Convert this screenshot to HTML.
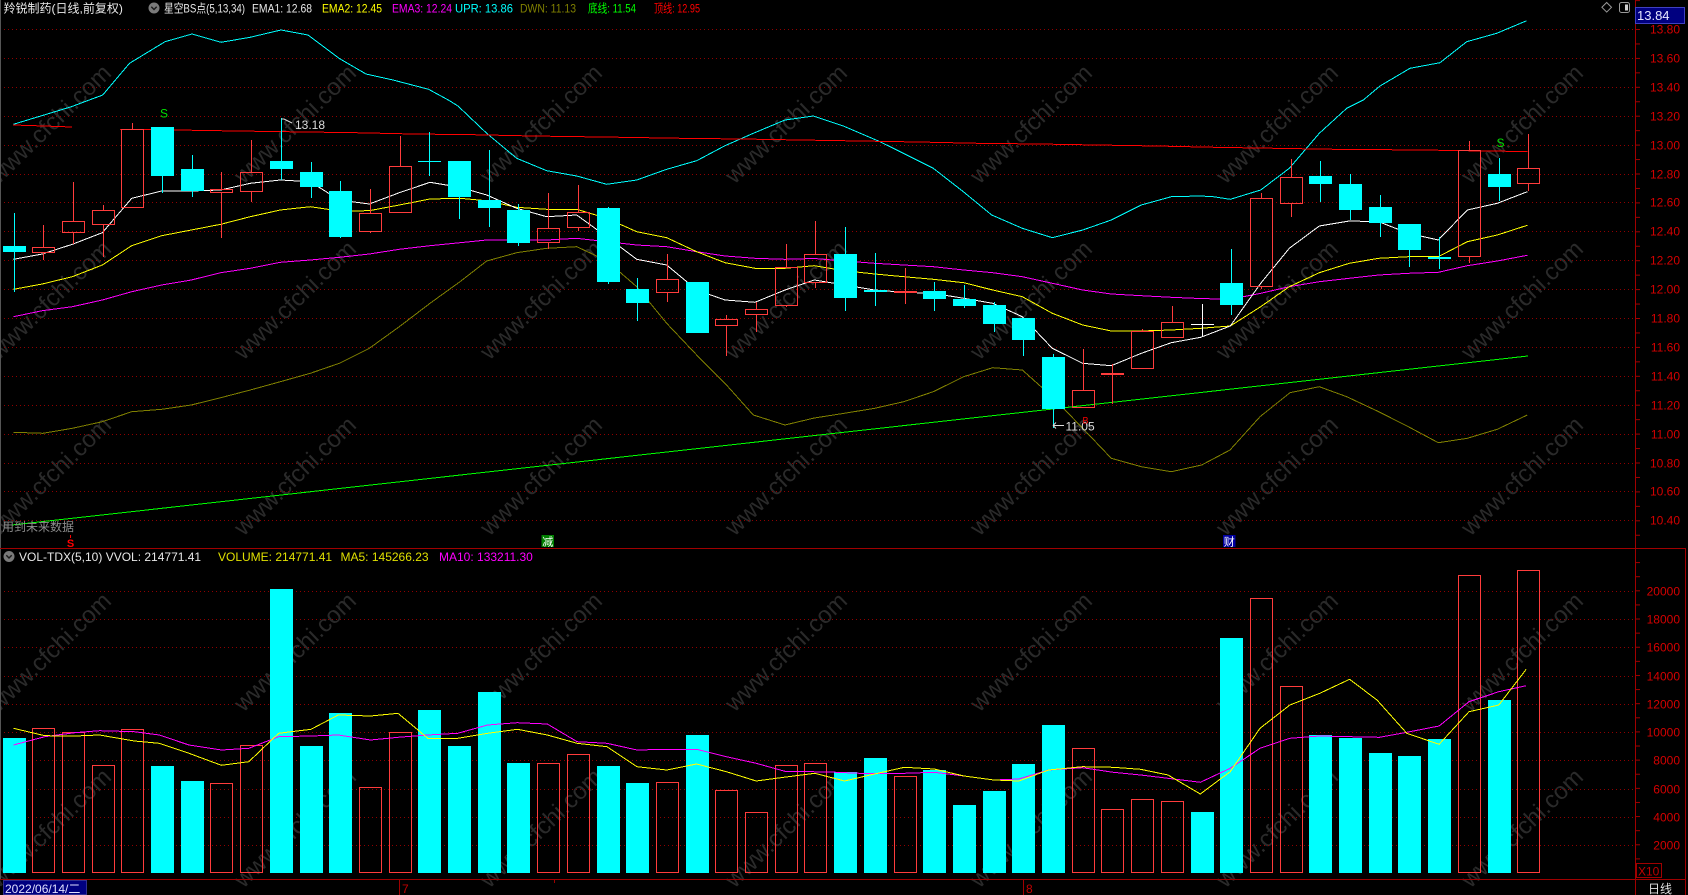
<!DOCTYPE html>
<html><head><meta charset="utf-8"><style>
html,body{margin:0;padding:0;background:#000;}
svg{display:block;font-family:"Liberation Sans","Noto Sans CJK SC",sans-serif;}
</style></head><body>
<svg width="1688" height="895" viewBox="0 0 1688 895" xmlns="http://www.w3.org/2000/svg">
<rect width="1688" height="895" fill="#000"/>
<defs>
<pattern id="tkm" patternUnits="userSpaceOnUse" x="1636" y="0.1" width="5" height="14.45"><rect x="0" y="0" width="4" height="1" fill="#a00000"/></pattern>
<pattern id="tkv" patternUnits="userSpaceOnUse" x="1636" y="11.8" width="5" height="14.11"><rect x="0" y="0" width="4" height="1" fill="#a00000"/></pattern>
</defs>

<!-- watermarks -->
<g font-size="24" fill="#2a2a2a" text-anchor="middle">
<text x="50" y="132" transform="rotate(-44 50 124)">www.cfchi.com</text>
<text x="295" y="132" transform="rotate(-44 295 124)">www.cfchi.com</text>
<text x="541" y="132" transform="rotate(-44 541 124)">www.cfchi.com</text>
<text x="786" y="132" transform="rotate(-44 786 124)">www.cfchi.com</text>
<text x="1031" y="132" transform="rotate(-44 1031 124)">www.cfchi.com</text>
<text x="1277" y="132" transform="rotate(-44 1277 124)">www.cfchi.com</text>
<text x="1522" y="132" transform="rotate(-44 1522 124)">www.cfchi.com</text>
<text x="50" y="308" transform="rotate(-44 50 300)">www.cfchi.com</text>
<text x="295" y="308" transform="rotate(-44 295 300)">www.cfchi.com</text>
<text x="541" y="308" transform="rotate(-44 541 300)">www.cfchi.com</text>
<text x="786" y="308" transform="rotate(-44 786 300)">www.cfchi.com</text>
<text x="1031" y="308" transform="rotate(-44 1031 300)">www.cfchi.com</text>
<text x="1277" y="308" transform="rotate(-44 1277 300)">www.cfchi.com</text>
<text x="1522" y="308" transform="rotate(-44 1522 300)">www.cfchi.com</text>
<text x="50" y="484" transform="rotate(-44 50 476)">www.cfchi.com</text>
<text x="295" y="484" transform="rotate(-44 295 476)">www.cfchi.com</text>
<text x="541" y="484" transform="rotate(-44 541 476)">www.cfchi.com</text>
<text x="786" y="484" transform="rotate(-44 786 476)">www.cfchi.com</text>
<text x="1031" y="484" transform="rotate(-44 1031 476)">www.cfchi.com</text>
<text x="1277" y="484" transform="rotate(-44 1277 476)">www.cfchi.com</text>
<text x="1522" y="484" transform="rotate(-44 1522 476)">www.cfchi.com</text>
<text x="50" y="660" transform="rotate(-44 50 652)">www.cfchi.com</text>
<text x="295" y="660" transform="rotate(-44 295 652)">www.cfchi.com</text>
<text x="541" y="660" transform="rotate(-44 541 652)">www.cfchi.com</text>
<text x="786" y="660" transform="rotate(-44 786 652)">www.cfchi.com</text>
<text x="1031" y="660" transform="rotate(-44 1031 652)">www.cfchi.com</text>
<text x="1277" y="660" transform="rotate(-44 1277 652)">www.cfchi.com</text>
<text x="1522" y="660" transform="rotate(-44 1522 652)">www.cfchi.com</text>
<text x="50" y="836" transform="rotate(-44 50 828)">www.cfchi.com</text>
<text x="295" y="836" transform="rotate(-44 295 828)">www.cfchi.com</text>
<text x="541" y="836" transform="rotate(-44 541 828)">www.cfchi.com</text>
<text x="786" y="836" transform="rotate(-44 786 828)">www.cfchi.com</text>
<text x="1031" y="836" transform="rotate(-44 1031 828)">www.cfchi.com</text>
<text x="1277" y="836" transform="rotate(-44 1277 828)">www.cfchi.com</text>
<text x="1522" y="836" transform="rotate(-44 1522 828)">www.cfchi.com</text>
</g>

<!-- grid -->
<path d="M0 29.5H1635M0 58.5H1635M0 87.5H1635M0 116.5H1635M0 145.5H1635M0 174.5H1635M0 202.5H1635M0 231.5H1635M0 260.5H1635M0 289.5H1635M0 318.5H1635M0 347.5H1635M0 376.5H1635M0 405.5H1635M0 434.5H1635M0 463.5H1635M0 491.5H1635M0 520.5H1635" stroke="#900000" stroke-width="1" stroke-dasharray="1 3" fill="none"/>
<path d="M0 591.5H1635M0 619.5H1635M0 647.5H1635M0 676.5H1635M0 704.5H1635M0 732.5H1635M0 760.5H1635M0 789.5H1635M0 817.5H1635M0 845.5H1635" stroke="#900000" stroke-width="1" stroke-dasharray="1 3" fill="none"/>

<!-- frame -->
<path d="M0.5 0V879" stroke="#555" stroke-width="1"/>
<path d="M1635.5 0V895M0 548.5H1686M1685.5 548V895M0 879.5H1686" stroke="#a00000" stroke-width="1" fill="none"/>
<rect x="1636" y="0" width="5" height="548" fill="url(#tkm)"/>
<rect x="1636" y="562" width="5" height="305" fill="url(#tkv)"/>

<!-- axis labels -->
<g font-size="12" fill="#d40000" text-anchor="end">
<text x="1680" y="33.5">13.80</text><text x="1680" y="62.5">13.60</text><text x="1680" y="91.5">13.40</text><text x="1680" y="120.5">13.20</text><text x="1680" y="149.5">13.00</text><text x="1680" y="178.5">12.80</text><text x="1680" y="206.5">12.60</text><text x="1680" y="235.5">12.40</text><text x="1680" y="264.5">12.20</text><text x="1680" y="293.5">12.00</text><text x="1680" y="322.5">11.80</text><text x="1680" y="351.5">11.60</text><text x="1680" y="380.5">11.40</text><text x="1680" y="409.5">11.20</text><text x="1680" y="438.5">11.00</text><text x="1680" y="467.5">10.80</text><text x="1680" y="495.5">10.60</text><text x="1680" y="524.5">10.40</text>
<text x="1680" y="595.5">20000</text><text x="1680" y="623.5">18000</text><text x="1680" y="651.5">16000</text><text x="1680" y="680.5">14000</text><text x="1680" y="708.5">12000</text><text x="1680" y="736.5">10000</text><text x="1680" y="764.5">8000</text><text x="1680" y="793.5">6000</text><text x="1680" y="821.5">4000</text><text x="1680" y="849.5">2000</text>
</g>
<rect x="1635.5" y="7.5" width="49" height="16" fill="#000080" stroke="#4040c0"/>
<text x="1637" y="20" font-size="13" fill="#e6e6ff">13.84</text>
<rect x="1636.5" y="863.5" width="25" height="14" fill="none" stroke="#a00000"/>
<text x="1638" y="875.5" font-size="12" fill="#c00000">X10</text>
<text x="1648" y="893" font-size="12" fill="#e0e0e0">日线</text>
<path d="M1606.7 2.5L1611.5 7.3L1606.7 12.1L1601.9 7.3Z" fill="none" stroke="#9a9a9a"/>
<rect x="1619.5" y="2.5" width="10" height="10" rx="2" fill="none" stroke="#9a9a9a"/>
<rect x="1625" y="4.5" width="3" height="6" fill="#cfcfcf"/>

<!-- main lines -->
<g fill="none" stroke-width="1" shape-rendering="crispEdges">
<polyline stroke="#00ffff" points="13.4,124.3 71.4,106.7 102.7,95 129.5,63.3 165,41.7 192,34 221,42.3 250,37.3 281,30 308,35 339,58.3 366,74 393,80 428.6,89.3 448.3,100 458,106 486.7,133.3 516.7,158.3 546.7,170.7 576.7,176 606.7,184.3 636.7,180 666.7,169.3 696.7,160.7 725,145.7 753.3,133.3 785,120 813.3,116 843.3,126 880,141.7 903.3,153.3 933.3,168.3 963.3,191.7 991.7,215 1022.3,228.3 1052.3,237.7 1082.7,230 1111.3,220 1141.3,205 1171.3,196.7 1200,196 1213.3,196.7 1230.3,199.3 1260.7,190 1289.3,168.3 1319.3,133.3 1346.7,108.3 1363.3,100 1380,86 1410,68.3 1440,62.7 1466.7,41.7 1496.7,33.3 1526.7,20.7"/>
<polyline stroke="#ff0000" points="13,125 44,126 72,127"/>
<polyline stroke="#ff0000" points="120,129.3 176.7,130 236.7,131 355,132.7 413.3,134 473,134.7 533,136 621.7,137.3 681.7,138.3 741.7,139 800,140 860,141 918.3,142 978.3,143.3 1038.3,144 1096.7,145 1156.7,146 1215,147.3 1275,148.3 1335,149.3 1423.3,150 1483,151 1527.3,151.5"/>
<polyline stroke="#808000" points="13.5,432.3 43,433.3 72.3,428.3 102.3,421.7 131.7,411.7 161.7,409.3 191.3,405 220.7,397.7 250.3,390 280.3,381.7 310.3,373.3 339.3,363.3 369.3,348.3 399.3,326.7 430,303.3 460,281.7 486.7,261 516.7,252.7 546.7,248.3 576.7,246.7 606.7,260.7 636.7,286.7 666.7,323.3 696.7,355 725,383.3 753.3,415 785,425 814.3,418 844.3,413.3 874.7,408.3 903.7,401.7 933.3,391.7 963.7,376.7 992.7,367.7 1022.3,370 1052.3,396.7 1082.7,428.3 1111.3,458.3 1141.3,466.7 1171.3,471.7 1201.7,465 1230,450 1260,416.7 1290,392.7 1319.3,386.7 1346.7,396.7 1378.7,411.7 1408.3,426.7 1438.3,442.7 1467.3,438.3 1497.3,429.3 1527.3,415"/>
<polyline stroke="#00ff00" points="12,525 1528,356"/>
<polyline stroke="#ff00ff" points="13.5,316.7 42.3,310.7 72.3,306.7 102.3,300 131.7,291.7 161.7,285 191.3,280 220.7,272.7 250.3,268.3 280.3,262.3 310.3,260 339.3,257.3 369.3,254 399.3,249.3 430,245.7 460,242.7 486.7,240 516.7,240 546.7,240 576.7,238.3 606.7,241.7 636.7,245 666.7,246.7 696.7,251.7 725,256 755,258.3 785,259.3 814.3,258.5 844.3,261 874.7,263.3 903.7,265 933.3,266.7 963.7,270 992.7,272.7 1022.3,276.7 1052.3,283.3 1082.7,290 1111.3,294 1141.3,295.7 1171.3,297.3 1200,298.5 1230.3,299.3 1260.7,293.3 1289.3,286.7 1319.3,281.7 1349.3,278.3 1378.7,275 1408.3,273.3 1438.3,272.3 1467.3,265.7 1497.3,261 1527.3,255.3"/>
<polyline stroke="#ffff00" points="13.5,289.3 42.3,284 72.3,276.7 102.3,265 131.7,245.7 161.7,235.7 191.3,230 220.7,224.3 250.3,216.7 280.3,210 310.3,206.7 339.3,211 369.3,210.7 399.3,205 430,199 460,198.3 486.7,200.7 516.7,207.3 546.7,209.3 576.7,209.3 606.7,218.3 636.7,231.7 666.7,237.7 696.7,251.7 725,262.7 755,268.3 785,268.3 814.3,265.7 844.3,270.7 874.7,274 903.7,276.7 933.3,279.3 963.7,282.7 992.7,290 1022.3,296.7 1052.3,313.3 1082.7,325 1111.3,331 1141.3,331 1171.3,330 1200.7,328.3 1230.3,326 1260.7,306.7 1289.3,286.7 1319.3,272.7 1349.3,263.3 1378.7,258.3 1408.3,256.7 1438.3,256.7 1467.3,241.7 1497.3,235 1527.3,225.3"/>
<polyline stroke="#ffffff" points="13.5,259.3 42.3,254 72.3,244.3 102.3,232.7 131.7,198.3 161.7,191 191.3,191 220.7,190 250.3,183.3 280.3,180 310.3,181.7 339.3,200 369.3,204 399.3,192.7 430,182.3 460,187.3 486.7,195 516.7,208.3 546.7,216.7 576.7,215 606.7,236.7 636.7,259.3 666.7,265 696.7,290 725,300 755,302.3 785,290 814.3,280 844.3,285 874.7,290 903.7,292.3 933.3,293.3 963.7,298.3 992.7,303.3 1022.3,316.7 1052.3,348.3 1082.7,363.3 1111.3,365.7 1141.3,353.3 1171.3,342.7 1200.7,337.3 1230.3,326 1260.7,283.3 1289.3,248.3 1319.3,226 1349.3,221 1378.7,221.7 1408.3,233.3 1438.3,240 1467.3,210 1497.3,203.3 1527.3,191.7"/>
</g>

<!-- candles: cyan -->
<path stroke="#00ffff" stroke-width="1" fill="none" d="M14.5 213V292M162.5 127V193M192.5 155V197M281.5 118V180M311.5 162V198M340.5 181V238M429.5 132V176M459.5 161V219M489.5 150V227M518.5 204V246M608.5 207V284M637.5 278V321M845.5 227V311M875.5 253V306M934.5 282V311M964.5 285V308M994.5 302V332M1023.5 318V356M1053.5 354V428M1231.5 249V315M1320.5 161V202M1350.5 174V220M1380.5 195V237M1409.5 224V267M1439.5 237V269M1499.5 158V201"/>
<g fill="#00ffff">
<rect x="3" y="246" width="23" height="6"/><rect x="151" y="127" width="23" height="49"/><rect x="181" y="169" width="23" height="22"/><rect x="270" y="161" width="23" height="8"/><rect x="300" y="172" width="23" height="15"/><rect x="329" y="191" width="23" height="46"/><rect x="418" y="161" width="23" height="1"/><rect x="448" y="161" width="23" height="36"/><rect x="478" y="200" width="23" height="8"/><rect x="507" y="210" width="23" height="33"/><rect x="597" y="208" width="23" height="74"/><rect x="626" y="289" width="23" height="14"/><rect x="686" y="282" width="23" height="51"/><rect x="834" y="254" width="23" height="44"/><rect x="864" y="290" width="23" height="2"/><rect x="923" y="291" width="23" height="8"/><rect x="953" y="299" width="23" height="7"/><rect x="983" y="305" width="23" height="19"/><rect x="1012" y="318" width="23" height="22"/><rect x="1042" y="357" width="23" height="52"/><rect x="1220" y="283" width="23" height="22"/><rect x="1309" y="176" width="23" height="8"/><rect x="1339" y="184" width="23" height="26"/><rect x="1369" y="207" width="23" height="16"/><rect x="1398" y="224" width="23" height="26"/><rect x="1428" y="257" width="23" height="2"/><rect x="1488" y="174" width="23" height="13"/>
</g>
<!-- candles: red -->
<path stroke="#ff3c3c" stroke-width="1" fill="none" d="M43.5 225V247M43.5 253V260M73.5 182V221M73.5 233V244M103.5 205V210M103.5 225V257M132.5 123V129M221.5 172V189M221.5 193V238M251.5 140V172M251.5 192V202M370.5 189V213M370.5 232V233M400.5 136V166M548.5 193V228M548.5 243V249M578.5 185V212M578.5 228V231M667.5 254V279M667.5 293V302M726.5 315V319M726.5 326V356M756.5 302V309M756.5 315V332M786.5 244V267M786.5 306V307M815.5 221V254M815.5 283V288M905.5 268V304M1083.5 349V390M1112.5 364V404M1142.5 329V331M1172.5 306V322M1261.5 193V198M1261.5 287V289M1291.5 159V177M1291.5 204V217M1469.5 141V150M1469.5 257V263M1528.5 134V168M1528.5 184V191"/>
<g fill="none" stroke="#ff3c3c" stroke-width="1">
<rect x="32.5" y="247.5" width="22" height="5"/><rect x="62.5" y="221.5" width="22" height="11"/><rect x="92.5" y="210.5" width="22" height="14"/><rect x="121.5" y="129.5" width="22" height="78"/><rect x="210.5" y="189.5" width="22" height="3"/><rect x="240.5" y="172.5" width="22" height="19"/><rect x="359.5" y="213.5" width="22" height="18"/><rect x="389.5" y="166.5" width="22" height="46"/><rect x="537.5" y="228.5" width="22" height="14"/><rect x="567.5" y="212.5" width="22" height="15"/><rect x="656.5" y="279.5" width="22" height="13"/><rect x="715.5" y="319.5" width="22" height="6"/><rect x="745.5" y="309.5" width="22" height="5"/><rect x="775.5" y="267.5" width="22" height="38"/><rect x="804.5" y="254.5" width="22" height="28"/><rect x="1072.5" y="390.5" width="22" height="17"/><rect x="1131.5" y="331.5" width="22" height="37"/><rect x="1161.5" y="322.5" width="22" height="15"/><rect x="1250.5" y="198.5" width="22" height="88"/><rect x="1280.5" y="177.5" width="22" height="26"/><rect x="1458.5" y="150.5" width="22" height="106"/><rect x="1517.5" y="168.5" width="22" height="15"/>
</g>
<rect x="894" y="291" width="23" height="2" fill="#ff3c3c"/>
<rect x="1101" y="373" width="23" height="2" fill="#ff3c3c"/>
<path d="M1202.5 304V337M1191 324.5H1214" stroke="#ffffff" stroke-width="1" fill="none"/>

<!-- annotations -->
<path d="M281.5 119H284L292 123" stroke="#dcdcdc" fill="none"/>
<text x="295" y="129" font-size="12" fill="#dcdcdc">13.18</text>
<path d="M1053 425.5H1064M1053 425.5l3 -3M1053 425.5l3 3" stroke="#dcdcdc" fill="none"/>
<text x="1065.5" y="430.5" font-size="12" fill="#dcdcdc">11.05</text>
<text x="1082.5" y="423.5" font-size="9" fill="#ff0000">B</text>
<text x="164" y="117.5" font-size="12" fill="#00e000" text-anchor="middle">S</text>
<text x="1500.5" y="147" font-size="12" fill="#00e000" text-anchor="middle">S</text>
<text x="2" y="531" font-size="12" fill="#8c8c8c">用到未来数据</text>
<path d="M70.5 535V538" stroke="#ff0000"/>
<text x="70.5" y="547" font-size="11" font-weight="bold" fill="#ff0000" text-anchor="middle">S</text>
<rect x="541.5" y="535" width="12.5" height="12" fill="#008000"/>
<text x="547.7" y="545.3" font-size="11" fill="#ffffff" text-anchor="middle">减</text>
<rect x="1223" y="535" width="12.5" height="12" fill="#0000a0"/>
<text x="1229.2" y="545.3" font-size="11" fill="#ffffff" text-anchor="middle">财</text>

<!-- header -->
<text x="3.5" y="12.5" font-size="12" fill="#e8e8e8">羚锐制药(日线,前复权)</text>
<circle cx="154" cy="8" r="5.5" fill="#7a7a7a"/>
<path d="M151.3 6.8L154 9.5L156.7 6.8" stroke="#1a1a1a" stroke-width="1.4" fill="none"/>
<g font-size="12">
<text x="164" y="12.5" fill="#e8e8e8" textLength="81" lengthAdjust="spacingAndGlyphs">星空BS点(5,13,34)</text>
<text x="252" y="12.5" fill="#e8e8e8" textLength="60" lengthAdjust="spacingAndGlyphs">EMA1: 12.68</text>
<text x="322" y="12.5" fill="#ffff00" textLength="60" lengthAdjust="spacingAndGlyphs">EMA2: 12.45</text>
<text x="392" y="12.5" fill="#ff00ff" textLength="60" lengthAdjust="spacingAndGlyphs">EMA3: 12.24</text>
<text x="455" y="12.5" fill="#00ffff" textLength="58" lengthAdjust="spacingAndGlyphs">UPR: 13.86</text>
<text x="520" y="12.5" fill="#808000" textLength="56" lengthAdjust="spacingAndGlyphs">DWN: 11.13</text>
<text x="588" y="12.5" fill="#00ff00" textLength="48" lengthAdjust="spacingAndGlyphs">底线: 11.54</text>
<text x="654" y="12.5" fill="#ff0000" textLength="46" lengthAdjust="spacingAndGlyphs">顶线: 12.95</text>
</g>

<!-- volume header -->
<g font-size="12">
<circle cx="9" cy="556.5" r="5.5" fill="#7a7a7a"/>
<path d="M6.3 555.3L9 558L11.7 555.3" stroke="#1a1a1a" stroke-width="1.4" fill="none"/>
<text x="19" y="561" fill="#e8e8e8">VOL-TDX(5,10) VVOL: 214771.41</text>
<text x="218" y="561" fill="#e0e000">VOLUME: 214771.41</text>
<text x="340.5" y="561" fill="#e0e000">MA5: 145266.23</text>
<text x="439" y="561" fill="#ff00ff">MA10: 133211.30</text>
</g>

<!-- volume bars -->
<g fill="#00ffff">
<rect x="3" y="738" width="23" height="135"/><rect x="151" y="766" width="23" height="107"/><rect x="181" y="781" width="23" height="92"/><rect x="270" y="589" width="23" height="284"/><rect x="300" y="746" width="23" height="127"/><rect x="329" y="713" width="23" height="160"/><rect x="418" y="710" width="23" height="163"/><rect x="448" y="746" width="23" height="127"/><rect x="478" y="692" width="23" height="181"/><rect x="507" y="763" width="23" height="110"/><rect x="597" y="766" width="23" height="107"/><rect x="626" y="783" width="23" height="90"/><rect x="686" y="735" width="23" height="138"/><rect x="834" y="772" width="23" height="101"/><rect x="864" y="758" width="23" height="115"/><rect x="923" y="770" width="23" height="103"/><rect x="953" y="805" width="23" height="68"/><rect x="983" y="791" width="23" height="82"/><rect x="1012" y="764" width="23" height="109"/><rect x="1042" y="725" width="23" height="148"/><rect x="1191" y="812" width="23" height="61"/><rect x="1220" y="638" width="23" height="235"/><rect x="1309" y="735" width="23" height="138"/><rect x="1339" y="738" width="23" height="135"/><rect x="1369" y="753" width="23" height="120"/><rect x="1398" y="756" width="23" height="117"/><rect x="1428" y="739" width="23" height="134"/><rect x="1488" y="700" width="23" height="173"/>
</g>
<g fill="none" stroke="#ff3c3c" stroke-width="1">
<rect x="32.5" y="728.5" width="22" height="144"/><rect x="62.5" y="732.5" width="22" height="140"/><rect x="92.5" y="765.5" width="22" height="107"/><rect x="121.5" y="729.5" width="22" height="143"/><rect x="210.5" y="783.5" width="22" height="89"/><rect x="240.5" y="745.5" width="22" height="127"/><rect x="359.5" y="787.5" width="22" height="85"/><rect x="389.5" y="732.5" width="22" height="140"/><rect x="537.5" y="763.5" width="22" height="109"/><rect x="567.5" y="754.5" width="22" height="118"/><rect x="656.5" y="782.5" width="22" height="90"/><rect x="715.5" y="790.5" width="22" height="82"/><rect x="745.5" y="812.5" width="22" height="60"/><rect x="775.5" y="765.5" width="22" height="107"/><rect x="804.5" y="763.5" width="22" height="109"/><rect x="894.5" y="776.5" width="22" height="96"/><rect x="1072.5" y="748.5" width="22" height="124"/><rect x="1101.5" y="809.5" width="22" height="63"/><rect x="1131.5" y="799.5" width="22" height="73"/><rect x="1161.5" y="801.5" width="22" height="71"/><rect x="1250.5" y="598.5" width="22" height="274"/><rect x="1280.5" y="686.5" width="22" height="186"/><rect x="1458.5" y="575.5" width="22" height="297"/><rect x="1517.5" y="570.5" width="22" height="302"/>
</g>

<!-- volume MAs -->
<g fill="none" stroke-width="1" shape-rendering="crispEdges">
<polyline stroke="#ff00ff" points="13.4,745 44.8,736.7 74.6,732.7 99.5,730.7 134.3,731.7 159.2,735 189,745 221.4,750 248.8,748.3 278.6,736.7 311,736 338.3,735 370.6,740 398,737.3 427.9,735 457.7,733.3 487.6,725 517.4,722.7 547.3,724 577.1,741.7 607,743.3 637,750 666.7,749.3 696.5,749.3 726.4,756.7 756.2,763.3 784.9,771.3 829.7,772 859.6,773.3 904.3,773.3 934.2,772.3 964,776 993.9,780 1018.8,779 1048.6,770 1082.4,767.7 1113.3,772.3 1140.6,775 1168,778.3 1200.3,782.3 1230.2,768.3 1260,748.3 1289.9,738.3 1319.8,736 1349.6,736.7 1379.5,737.3 1406.8,732.3 1439.1,726 1469,701.7 1498.8,691.7 1526.2,685.7"/>
<polyline stroke="#ffff00" points="13.4,728.3 44.8,735.7 74.6,736 99.5,735 134.3,741 159.2,743.3 189,753.3 221.4,765.3 248.8,761.7 278.6,733.3 311,729.3 338.3,715 370.6,716 398,713.3 427.9,738.3 457.7,738.3 487.6,733.3 517.4,729.3 547.3,735 577.1,743.3 607,746.7 637,766.7 666.7,770 696.5,764 726.4,771.7 756.2,781 786,777 814.8,773.3 844.6,781 874.5,774 904.3,767.3 934.2,769 964,776 993.9,780 1018.8,781 1048.6,770 1082.4,766.7 1113.3,767.3 1140.6,769.3 1168,775 1200.3,794 1230.2,771.7 1260,728.3 1289.9,705 1319.8,693.3 1349.6,679.3 1377,700 1406.8,733.3 1439.1,744.3 1469,711.7 1498.8,705 1526.2,669.3"/>
</g>

<!-- date row -->
<rect x="3.5" y="880.5" width="83" height="14" fill="#000080" stroke="#303090"/>
<text x="5" y="893" font-size="12" fill="#e0e0ff">2022/06/14/二</text>
<path d="M399.5 880V895M1023.5 880V895M554.5 880V883" stroke="#a00000"/>
<text x="402" y="893" font-size="12" fill="#c00000">7</text>
<text x="1026" y="893" font-size="12" fill="#c00000">8</text>
</svg>
</body></html>
